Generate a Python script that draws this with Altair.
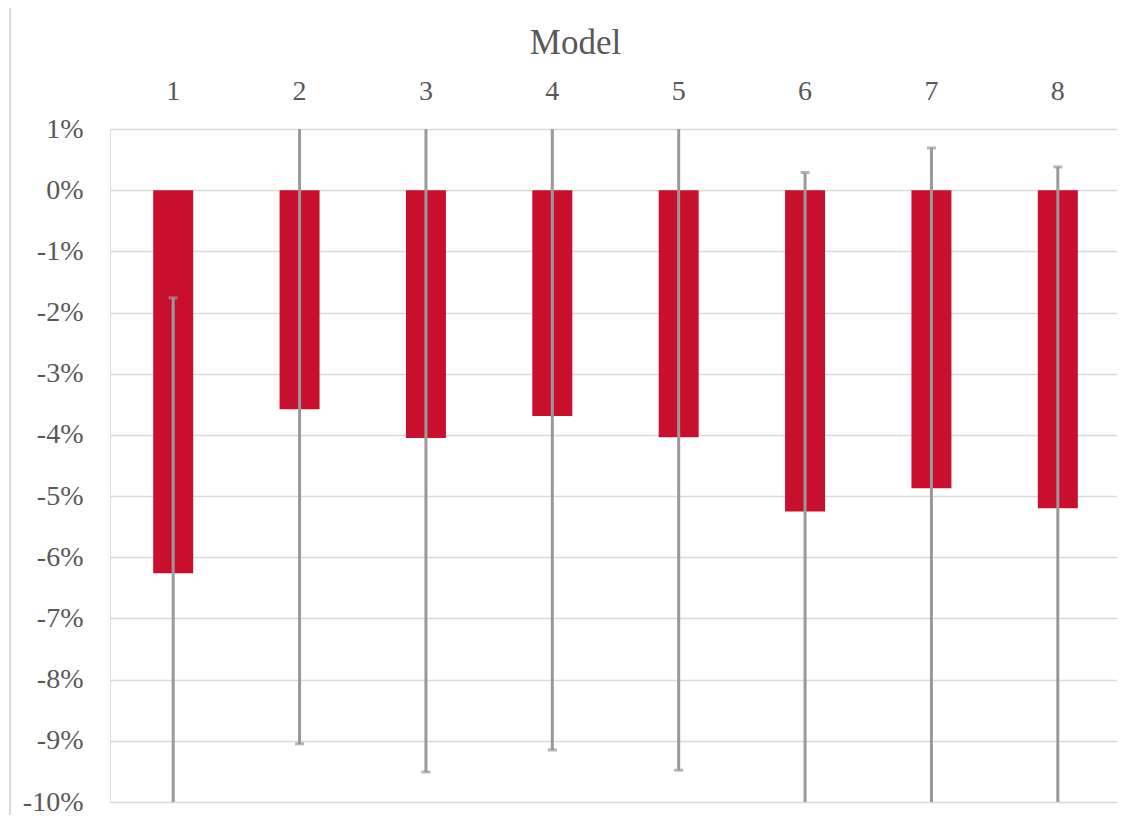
import altair as alt
import pandas as pd

models = ["1", "2", "3", "4", "5", "6", "7", "8"]
values = [-6.26, -3.58, -4.05, -3.69, -4.04, -5.25, -4.87, -5.20]
err_low = [-10.76, -9.05, -9.51, -9.15, -9.48, -10.79, -10.43, -10.78]
err_high = [-1.76, 1.89, 1.41, 1.77, 1.40, 0.29, 0.69, 0.38]
y_ticks = [1, 0, -1, -2, -3, -4, -5, -6, -7, -8, -9, -10]

Y_MIN, Y_MAX = -10, 1
W, H = 1011, 673

df = pd.DataFrame({"model": models, "value": values, "lo": err_low, "hi": err_high})
caps = pd.DataFrame({
    "model": models + models,
    "end": err_low + err_high,
})
caps = caps[(caps["end"] >= Y_MIN) & (caps["end"] <= Y_MAX)]

FONT = "Liberation Serif"
TXT = "#595959"

x_enc = alt.X(
    "model:N",
    sort=models,
    scale=alt.Scale(paddingInner=0, paddingOuter=0),
    axis=alt.Axis(
        orient="top", title="Model", labelAngle=0, ticks=False, domain=False,
        labelPadding=24, labelFontSize=28, labelFont=FONT, labelColor=TXT,
        titleFontSize=35, titleFont=FONT, titleColor=TXT, titleFontWeight="normal",
        titleBaseline="alphabetic", titleY=-76, titleX=465, titleAlign="center",
        titleAnchor="start",
    ),
)
y_scale = alt.Scale(domain=[Y_MIN, Y_MAX], nice=False, zero=False)

bars = alt.Chart(df).mark_bar(color="#C8102E", size=40).encode(
    x=x_enc,
    y=alt.Y(
        "value:Q", scale=y_scale,
        axis=alt.Axis(
            title=None, values=y_ticks, labelExpr="datum.value + '%'",
            ticks=False, domain=False, grid=True, gridColor="#d9d9d9", gridWidth=1.5,
            labelPadding=27, labelFontSize=28, labelFont=FONT, labelColor=TXT,
        ),
    ),
)

rules = alt.Chart(df).mark_rule(color="#999999", strokeWidth=3, clip=True).encode(
    x=alt.X("model:N", sort=models),
    y=alt.Y("lo:Q", scale=y_scale),
    y2="hi:Q",
)

cap_marks = alt.Chart(caps).mark_tick(color="#999999", size=9, thickness=3).encode(
    x=alt.X("model:N", sort=models),
    y=alt.Y("end:Q", scale=y_scale),
)

left_line = alt.Chart(df).mark_rule(color="#d9d9d9", strokeWidth=1.5).encode(
    x=alt.value(-100), y=alt.value(-121), y2=alt.value(H + 13),
)

chart = alt.layer(left_line, bars, rules, cap_marks).properties(
    width=W, height=H,
    padding={"left": 102, "top": 121, "right": -4, "bottom": 13},
    autosize=alt.AutoSizeParams(type="none"),
).configure_view(stroke=None).configure(background="white")

chart.save("out.html", embed_options={"renderer": "svg", "actions": False})
